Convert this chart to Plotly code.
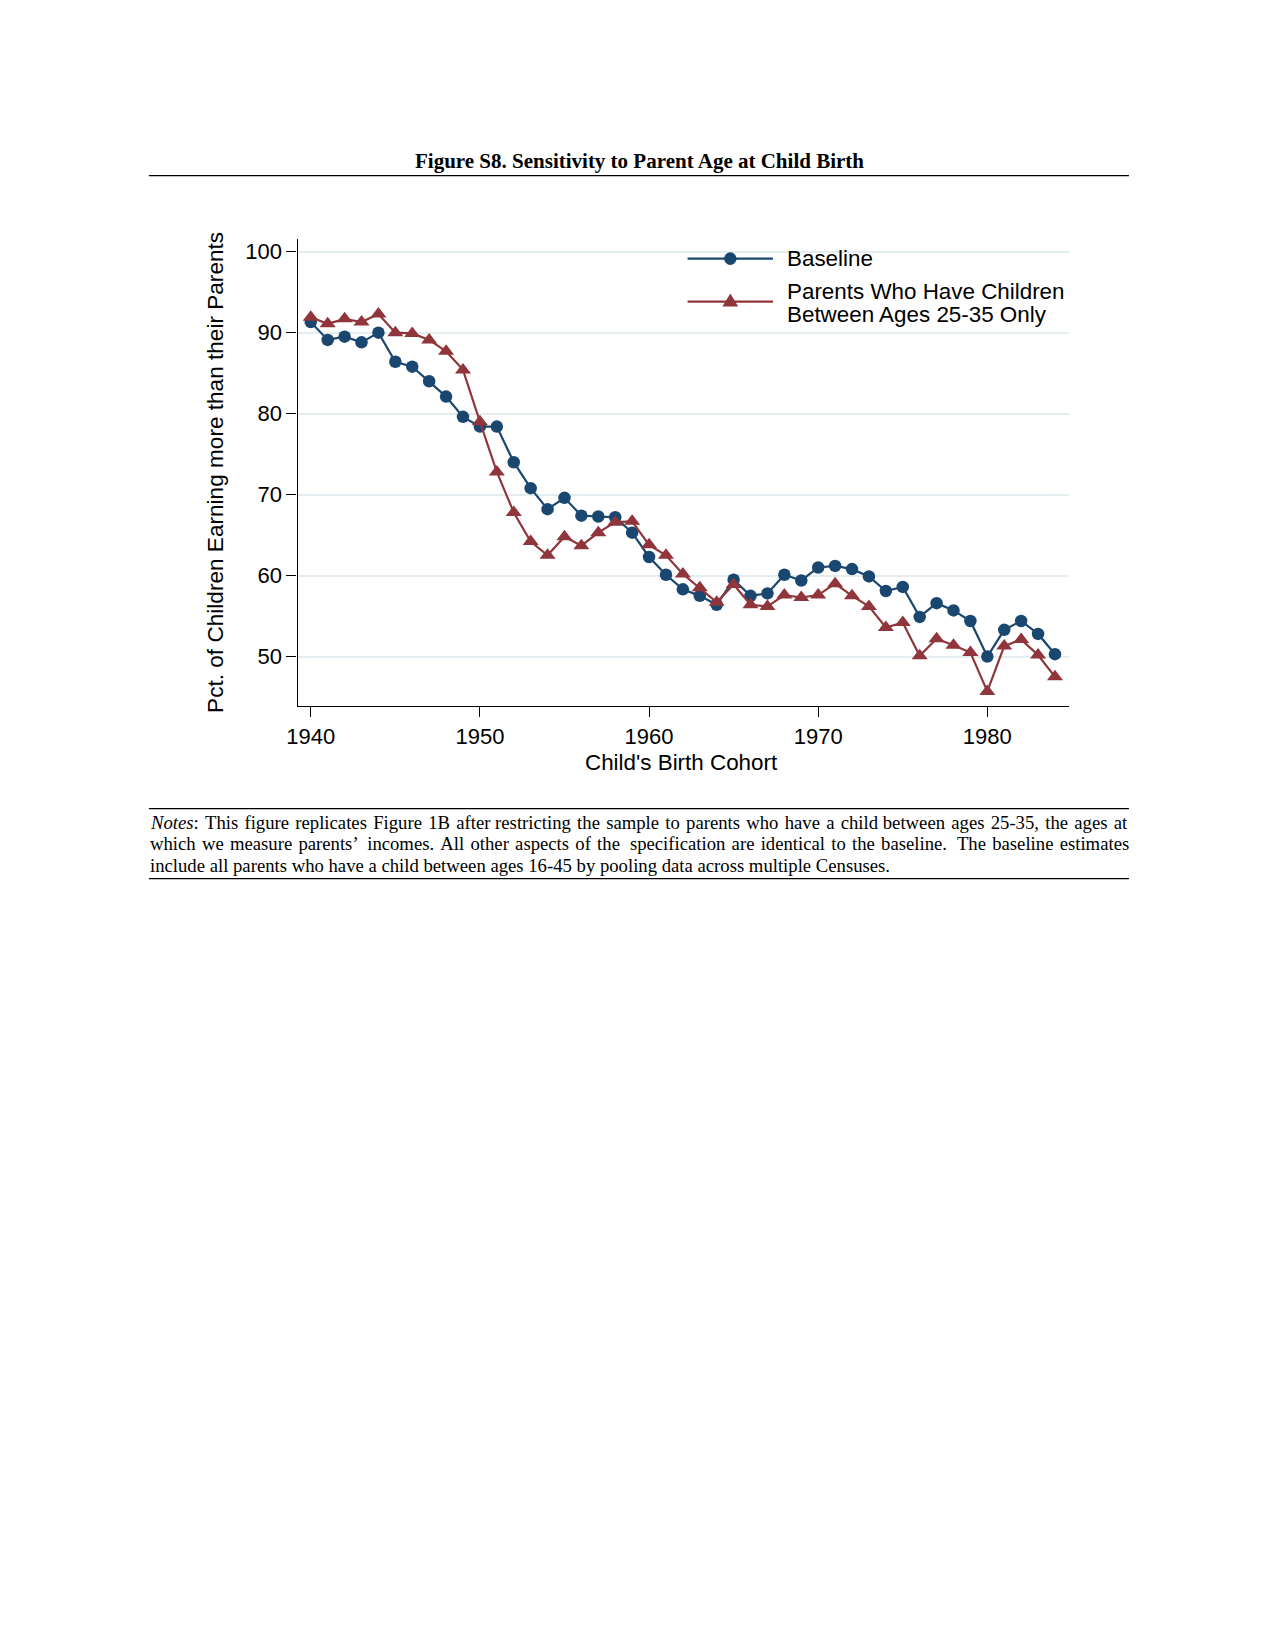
import plotly.graph_objects as go

# ---------------- data ----------------
years = list(range(1940, 1985))
baseline = [91.3, 89.1, 89.5, 88.8, 90.0, 86.4, 85.8, 84.0, 82.1, 79.6,
            78.4, 78.4, 74.0, 70.8, 68.2, 69.6, 67.4, 67.3, 67.2, 65.3,
            62.3, 60.1, 58.3, 57.5, 56.4, 59.5, 57.5, 57.8, 60.1, 59.4,
            61.0, 61.2, 60.8, 59.9, 58.1, 58.6, 54.9, 56.6, 55.7, 54.4,
            50.0, 53.3, 54.4, 52.8, 50.3]
parents_25_35 = [91.9, 91.1, 91.7, 91.3, 92.3, 90.0, 89.9, 89.1, 87.7, 85.4,
                 79.0, 72.8, 67.8, 64.2, 62.5, 64.8, 63.7, 65.3, 66.6, 66.7,
                 63.8, 62.5, 60.2, 58.5, 56.7, 58.9, 56.4, 56.2, 57.6, 57.3,
                 57.6, 59.0, 57.5, 56.2, 53.6, 54.2, 50.1, 52.2, 51.4, 50.5,
                 45.7, 51.3, 52.1, 50.2, 47.5]
x_ticks = [1940, 1950, 1960, 1970, 1980]
y_ticks = [50, 60, 70, 80, 90, 100]
series_names = ["Baseline", "Parents Who Have Children", "Between Ages 25-35 Only"]

title_text = "Figure S8. Sensitivity to Parent Age at Child Birth"
notes_lines = [
    "<i>Notes</i>: This figure replicates Figure 1B after restricting the sample to parents who have a child between ages 25-35, the ages at",
    "which we measure parents\u2019 incomes. All other aspects of the specification are identical to the baseline. The baseline estimates",
    "include all parents who have a child between ages 16-45 by pooling data across multiple Censuses.",
]

# ---------------- styling ----------------
W, H = 1275, 1650
NAVY = "#1a476f"
MAROON = "#90353b"
GRID = "#E3ECEF"
SANS = "Liberation Sans, Arial, sans-serif"
SERIF = "Liberation Serif, Times New Roman, serif"
HAIR, THIN = "\u200a", "\u2009"

PL, PR, PT, PB = 281, 1059.5, 231, 698   # plot area in pixels


def px(x):
    return x / W


def py(y):
    return 1 - y / H


def widen(line, pads):
    """Approximate justified text by padding word gaps with narrow spaces.
    pads: function(gap_index) -> extra string for that gap."""
    words = line.split(" ")
    out = words[0]
    for i, w in enumerate(words[1:]):
        out += " " + pads(i) + w
    return out


fig = go.Figure()
fig.add_trace(go.Scatter(
    x=years, y=baseline, mode="lines+markers", name=series_names[0],
    line=dict(color=NAVY, width=2.2),
    marker=dict(symbol="circle", size=12.5, color=NAVY),
))
fig.add_trace(go.Scatter(
    x=years, y=parents_25_35, mode="lines+markers", name=series_names[1],
    line=dict(color=MAROON, width=2.2),
    marker=dict(symbol="triangle-up", size=14, color=MAROON),
))

fig.update_layout(
    width=W, height=H,
    margin=dict(l=0, r=0, t=0, b=0),
    paper_bgcolor="white", plot_bgcolor="white",
    showlegend=False,
    xaxis=dict(
        domain=[px(PL), px(PR)], range=[1939.22, 1984.85],
        tickvals=x_ticks, showline=True, linecolor="black", linewidth=1.3,
        ticks="outside", ticklen=10, tickwidth=1.3, tickcolor="black",
        showgrid=False, zeroline=False,
        tickfont=dict(family=SANS, size=22, color="black"),
    ),
    yaxis=dict(
        domain=[py(PB), py(PT)], range=[43.9, 101.56],
        tickvals=y_ticks, showline=True, linecolor="black", linewidth=1.3,
        ticks="outside", ticklen=10, tickwidth=1.3, tickcolor="black",
        showgrid=True, gridcolor=GRID, gridwidth=1.6, zeroline=False,
        tickfont=dict(family=SANS, size=22, color="black"),
    ),
)

annotations = []
# figure title
annotations.append(dict(x=px(626), y=py(152.6), xref="paper", yref="paper",
                        text="<b>" + title_text + "</b>", showarrow=False,
                        xanchor="center", yanchor="middle",
                        font=dict(family=SERIF, size=21, color="black")))
# axis titles
annotations.append(dict(x=px(668.4), y=py(754.6), xref="paper", yref="paper",
                        text="Child's Birth Cohort", showarrow=False,
                        xanchor="center", yanchor="middle",
                        font=dict(family=SANS, size=22.4, color="black")))
annotations.append(dict(x=px(198), y=py(464.6), xref="paper", yref="paper",
                        text="Pct. of Children Earning more than their Parents",
                        showarrow=False, textangle=-90,
                        xanchor="center", yanchor="middle",
                        font=dict(family=SANS, size=22.6, color="black")))
# legend texts
annotations.append(dict(x=px(772.4), y=py(250.6), xref="paper", yref="paper",
                        text=series_names[0], showarrow=False,
                        xanchor="left", yanchor="middle",
                        font=dict(family=SANS, size=22.4, color="black")))
annotations.append(dict(x=px(772.4), y=py(283.6), xref="paper", yref="paper",
                        text=series_names[1], showarrow=False,
                        xanchor="left", yanchor="middle",
                        font=dict(family=SANS, size=22.4, color="black")))
annotations.append(dict(x=px(772.4), y=py(306.6), xref="paper", yref="paper",
                        text=series_names[2], showarrow=False,
                        xanchor="left", yanchor="middle",
                        font=dict(family=SANS, size=22.4, color="black")))
# notes (first two lines padded to approximate justification)
notes_render = [
    widen(notes_lines[0], lambda i: "" if i in (6, 15) else HAIR),
    widen(notes_lines[1], lambda i: HAIR + (THIN if i in (3, 9, 15) else "")),
    notes_lines[2],
]
for line, yy in zip(notes_render, [814.6, 835.6, 857.6]):
    annotations.append(dict(x=px(130), y=py(yy), xref="paper", yref="paper",
                            text=line, showarrow=False,
                            xanchor="left", yanchor="middle",
                            font=dict(family=SERIF, size=18.7, color="black")))
fig.update_layout(annotations=annotations)

shapes = []
# horizontal rules
for yy in [167.6, 800.6, 870.6]:
    shapes.append(dict(type="line", xref="paper", yref="paper",
                       x0=px(131), x1=px(1119.6), y0=py(yy), y1=py(yy),
                       line=dict(color="black", width=1.3)))
# legend samples
LX0, LX1, LXM = 674.4, 760.5, 717.5
LY1, LY2 = 250.6, 293.6
shapes.append(dict(type="line", xref="paper", yref="paper",
                   x0=px(LX0), x1=px(LX1), y0=py(LY1), y1=py(LY1),
                   line=dict(color=NAVY, width=2.2)))
shapes.append(dict(type="circle", xref="paper", yref="paper",
                   x0=px(LXM - 6.3), x1=px(LXM + 6.3),
                   y0=py(LY1 + 6.3), y1=py(LY1 - 6.3),
                   fillcolor=NAVY, line=dict(color=NAVY, width=0)))
shapes.append(dict(type="line", xref="paper", yref="paper",
                   x0=px(LX0), x1=px(LX1), y0=py(LY2), y1=py(LY2),
                   line=dict(color=MAROON, width=2.2)))
tri = "M {} {} L {} {} L {} {} Z".format(
    px(LXM - 8), py(LY2 + 5), px(LXM + 8), py(LY2 + 5),
    px(LXM), py(LY2 - 8))
shapes.append(dict(type="path", xref="paper", yref="paper", path=tri,
                   fillcolor=MAROON, line=dict(color=MAROON, width=0)))
fig.update_layout(shapes=shapes)

fig.write_html("out.html")
